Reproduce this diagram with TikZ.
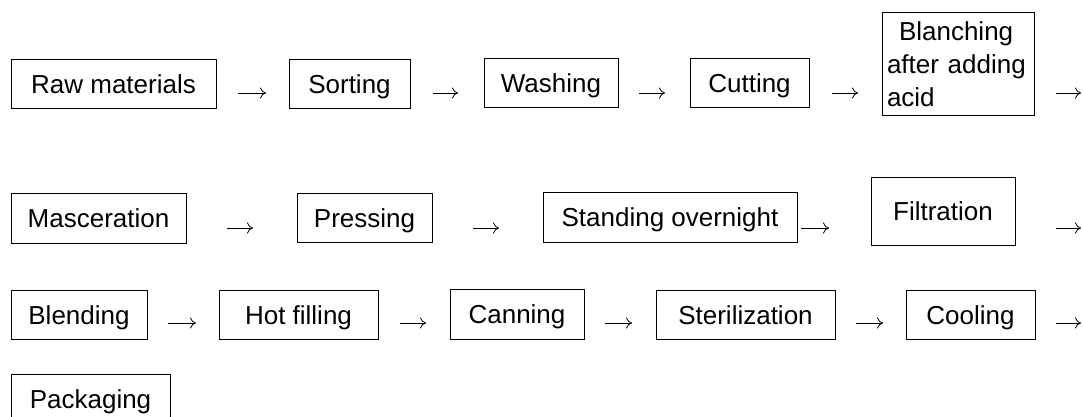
\documentclass[tikz,border=0pt]{standalone}
\usepackage{fontspec}
\setmainfont{Liberation Sans}
\usetikzlibrary{arrows.meta}
\begin{document}
\begin{tikzpicture}[x=1pt,y=1pt,
  box/.style={draw, line width=0.8pt, inner sep=0pt, font=\fontsize{26}{33}\selectfont,
              text height=19pt, text depth=0pt},
  tallbox/.style={draw, line width=0.8pt, inner xsep=5pt, inner ysep=0pt,
              font=\fontsize{26}{33}\selectfont, align=left},
  flow/.style={-{To[length=6pt,width=11pt,line width=0.8pt]}, line width=0.9pt}]
\clip (0,0) rectangle (1083,-416);
\fill[white] (0,0) rectangle (1083,-416);

% Row 1
\node[box, minimum width=205pt, minimum height=49pt] (raw) at (113.5,-83.5) {Raw materials};
\node[box, minimum width=121pt, minimum height=49pt] (sort) at (349.5,-83.5) {Sorting};
\node[box, minimum width=134pt, minimum height=49pt] (wash) at (551,-82.5) {Washing};
\node[box, minimum width=119pt, minimum height=49pt] (cut) at (749.5,-82.5) {Cutting};
\node[tallbox, text width=142pt, minimum height=103pt] (blanch) at (958,-64) {\hspace*{12pt}Blanching\\after adding\\acid};

% Row 2
\node[box, minimum width=175pt, minimum height=50pt] (masc) at (98.5,-218) {Masceration};
\node[box, minimum width=135pt, minimum height=49pt] (press) at (364.5,-217.5) {Pressing};
\node[box, minimum width=254pt, minimum height=50pt] (stand) at (670,-217) {Standing overnight};
\node[box, minimum width=144pt, minimum height=68pt] (filt) at (943,-211) {Filtration};

% Row 3
\node[box, minimum width=136pt, minimum height=49pt] (blend) at (79,-314.5) {Blending};
\node[box, minimum width=159pt, minimum height=49pt] (hot) at (298.5,-314.5) {Hot filling};
\node[box, minimum width=134pt, minimum height=50pt] (can) at (517,-314) {Canning};
\node[box, minimum width=179pt, minimum height=49pt] (ster) at (745.5,-314.5) {Sterilization};
\node[box, minimum width=129pt, minimum height=49pt] (cool) at (970.5,-314.5) {Cooling};

% Row 4
\node[box, minimum width=159pt, minimum height=49pt] (pack) at (90.5,-398.5) {Packaging};

% Arrows (free-standing, as printed between the boxes)
\coordinate (r1a) at (238,-93);  \coordinate (r1b) at (266,-93);
\coordinate (r1c) at (433,-93);  \coordinate (r1d) at (458,-93);
\coordinate (r1e) at (639,-93);  \coordinate (r1f) at (665,-93);
\coordinate (r1g) at (832,-93);  \coordinate (r1h) at (858,-93);
\coordinate (r1i) at (1056,-93); \coordinate (r1j) at (1081,-93);
\draw[flow] (r1a) -- (r1b);
\draw[flow] (r1c) -- (r1d);
\draw[flow] (r1e) -- (r1f);
\draw[flow] (r1g) -- (r1h);
\draw[flow] (r1i) -- (r1j);

\coordinate (r2a) at (227,-228);  \coordinate (r2b) at (253,-228);
\coordinate (r2c) at (473,-228);  \coordinate (r2d) at (499,-228);
\coordinate (r2e) at (801,-228);  \coordinate (r2f) at (829,-228);
\coordinate (r2g) at (1056,-228); \coordinate (r2h) at (1081,-228);
\draw[flow] (r2a) -- (r2b);
\draw[flow] (r2c) -- (r2d);
\draw[flow] (r2e) -- (r2f);
\draw[flow] (r2g) -- (r2h);

\coordinate (r3a) at (168,-323);  \coordinate (r3b) at (196,-323);
\coordinate (r3c) at (400,-323);  \coordinate (r3d) at (426,-323);
\coordinate (r3e) at (605,-323);  \coordinate (r3f) at (632,-323);
\coordinate (r3g) at (856,-323);  \coordinate (r3h) at (883,-323);
\coordinate (r3i) at (1056,-323); \coordinate (r3j) at (1081,-323);
\draw[flow] (r3a) -- (r3b);
\draw[flow] (r3c) -- (r3d);
\draw[flow] (r3e) -- (r3f);
\draw[flow] (r3g) -- (r3h);
\draw[flow] (r3i) -- (r3j);
\end{tikzpicture}
\end{document}
